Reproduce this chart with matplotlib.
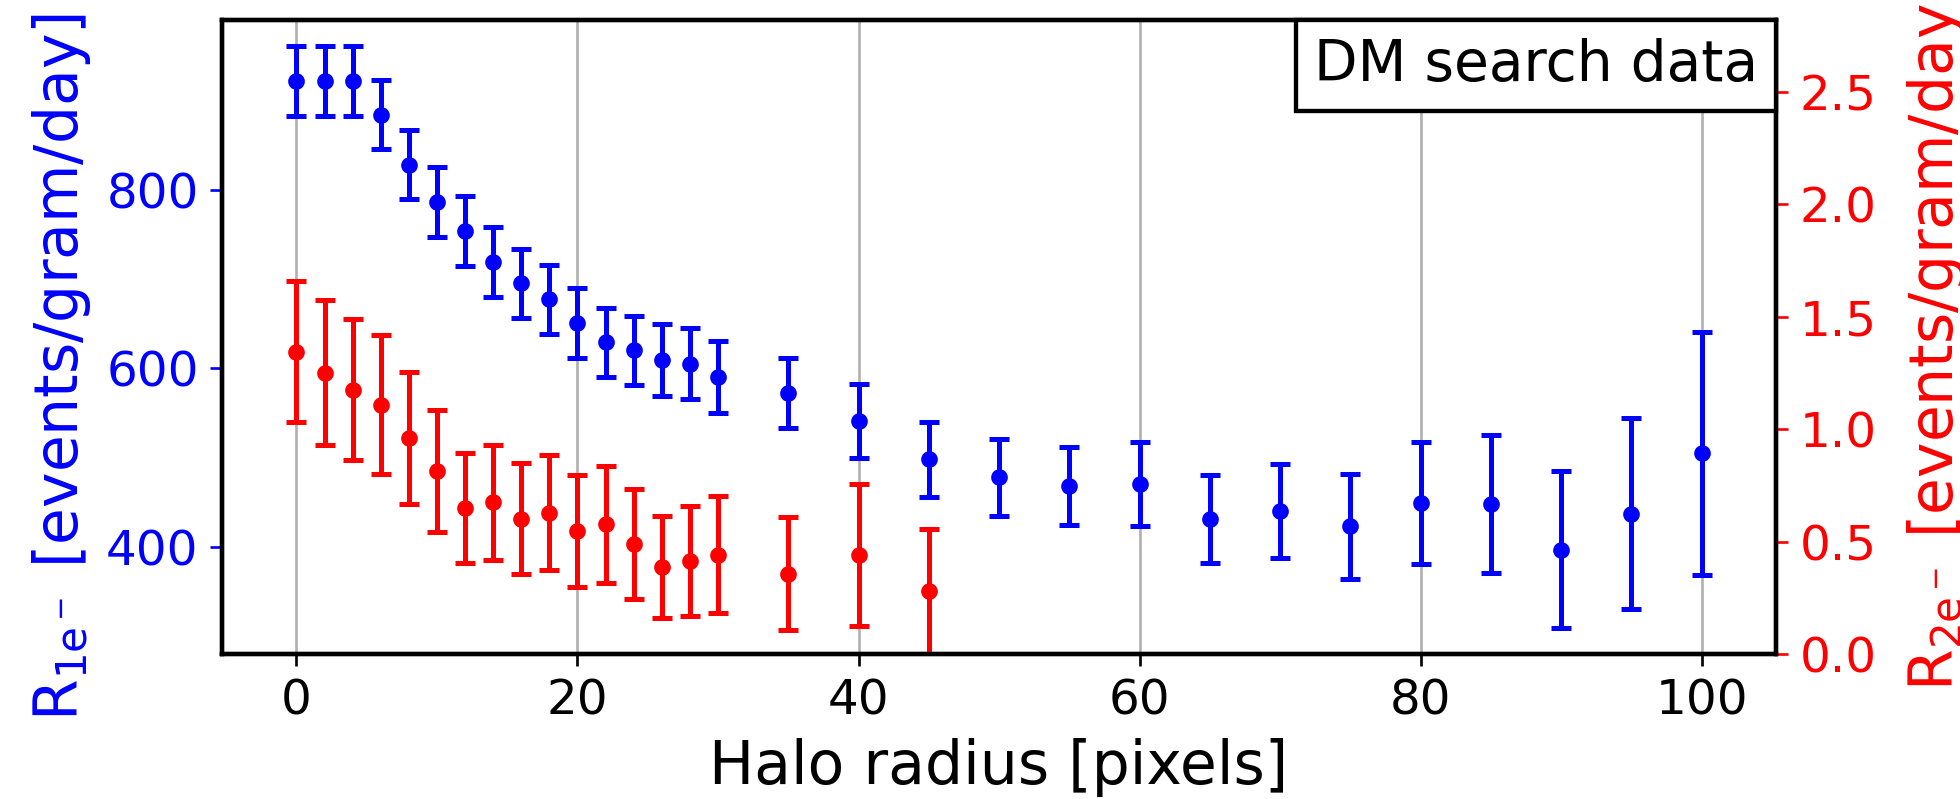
import matplotlib
matplotlib.use("Agg")
import matplotlib.pyplot as plt
from matplotlib.lines import Line2D

# data: halo radius (pixels) vs rate
blue_x = [0, 2, 4, 6, 8, 10, 12, 14, 16, 18, 20, 22, 24, 26, 28, 30,
          35, 40, 45, 50, 55, 60, 65, 70, 75, 80, 85, 90, 95, 100]
blue_y = [922, 922, 922, 884, 828, 786, 754, 719, 695, 677, 651, 629, 620, 609, 605, 590,
          572, 541, 498, 478, 468, 470, 431, 440, 423, 449, 448, 397, 437, 505]
blue_err = [39, 39, 39, 39, 39, 39, 39, 39, 39, 39, 39, 39, 39, 40, 40, 40,
            39, 41, 42, 43, 44, 47, 49, 53, 59, 68, 77, 88, 107, 136]

red_x = [0, 2, 4, 6, 8, 10, 12, 14, 16, 18, 20, 22, 24, 26, 28, 30, 35, 40, 45]
red_y = [1.345, 1.252, 1.176, 1.109, 0.962, 0.813, 0.649, 0.674, 0.601, 0.628,
         0.548, 0.577, 0.488, 0.388, 0.414, 0.442, 0.357, 0.440, 0.278]
red_err = [0.313, 0.324, 0.314, 0.308, 0.293, 0.271, 0.246, 0.256, 0.247, 0.256,
           0.249, 0.261, 0.245, 0.226, 0.244, 0.259, 0.251, 0.314, 0.280]

fig, ax1 = plt.subplots(figsize=(1961 / 240, 799 / 240), dpi=240)
fig.subplots_adjust(left=0.1132, right=0.9057, top=0.975, bottom=0.1815)

# 1e- rate on left axis
ax1.errorbar(blue_x, blue_y, yerr=blue_err, fmt="o", color="b", ms=4,
             elinewidth=1.5, capsize=3, capthick=1.5)
ax1.set_xlim(-5.3, 105.3)
ax1.set_ylim(280, 990)
ax1.set_yticks([400, 600, 800])
ax1.set_xlabel("Halo radius [pixels]", fontsize=18)
ax1.set_ylabel(r"R$_{\mathrm{1e^-}}$ [events/gram/day]", color="b", fontsize=18)
ax1.yaxis.label.set_y(0.452)
ax1.tick_params(axis="y", colors="b", labelsize=14.5)
ax1.tick_params(axis="x", labelsize=14.5)
ax1.grid(axis="x")

# 2e- rate on right axis
ax2 = ax1.twinx()
ax2.errorbar(red_x, red_y, yerr=red_err, fmt="o", color="r", ms=4,
             elinewidth=1.5, capsize=3, capthick=1.5)
ax2.set_ylim(0, 2.82)
ax2.set_yticks([0.0, 0.5, 1.0, 1.5, 2.0, 2.5])
ax2.set_ylabel(r"R$_{\mathrm{2e^-}}$ [events/gram/day]", color="r", fontsize=18,
               labelpad=8.5)
ax2.tick_params(axis="y", colors="r", labelsize=14.5)

for ax in (ax1, ax2):
    for s in ax.spines.values():
        s.set_linewidth(1.3)
        s.set_color("black")

# legend box with text only
dummy = Line2D([], [], linestyle="none")
leg = ax2.legend([dummy], ["DM search data"], loc="upper right", fontsize=17,
                 handlelength=0, handletextpad=0, borderaxespad=0, borderpad=0.32,
                 fancybox=False, framealpha=1, edgecolor="black")
leg.get_frame().set_linewidth(1.3)

plt.savefig("out.png", dpi=240)
